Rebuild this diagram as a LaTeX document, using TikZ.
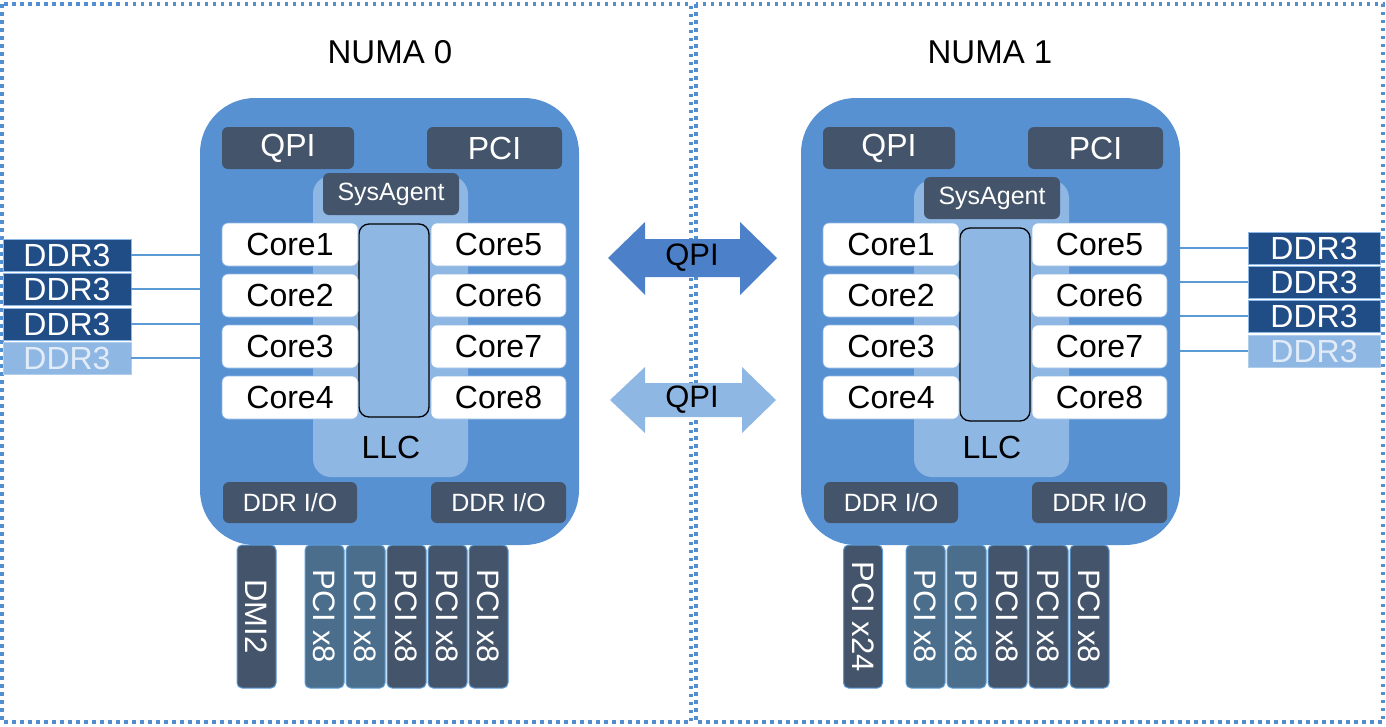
\documentclass[tikz,border=0pt]{standalone}
\usepackage{fontspec}
\setmainfont{Liberation Sans}
\definecolor{chipblue}{RGB}{88,145,210}
\definecolor{slate}{RGB}{68,84,106}
\definecolor{lightb}{RGB}{143,183,228}
\definecolor{ddrdark}{RGB}{33,77,135}
\definecolor{pcit}{RGB}{74,110,140}
\definecolor{dotblue}{RGB}{91,155,213}
\definecolor{dotframe}{RGB}{82,142,208}
\definecolor{arrowblue}{RGB}{76,128,200}
\definecolor{ddrlighttext}{RGB}{225,236,248}
\newcommand\fs[1]{\fontsize{#1}{#1}\selectfont}
\newcommand\placebox[7]{\node[#1, minimum width={(#5)-(#3)}, minimum height={(#6)-(#4)}] (#2) at ({((#3)+(#5))/2},{((#4)+(#6))/2}) {#7};}
\tikzset{
  box/.style={inner sep=0pt, outer sep=0pt},
  chipbox/.style={box, fill=chipblue, rounded corners=55},
  cachebox/.style={box, fill=lightb, rounded corners=18},
  darkbox/.style={box, fill=slate, text=white, rounded corners=6},
  corebox/.style={box, fill=white, draw=lightb, line width=0.6, rounded corners=6, text=black, font=\fs{32}},
  llcbar/.style={box, fill=lightb, draw=black, line width=1.3, rounded corners=10},
  vbox/.style={box, rotate=-90, draw=dotblue, line width=1, rounded corners=5, text=white, font=\fs{31}, minimum width=143, minimum height=39},
  ddrbox/.style={box, fill=ddrdark, draw=lightb, line width=1, text=white, font=\fs{32}},
  ddrlight/.style={box, fill=lightb, draw=lightb!70!white, line width=1, text=ddrlighttext, font=\fs{32}},
  conn/.style={draw=dotblue, line width=1.3},
  dotb/.style={draw=dotframe, line width=3.5, dash pattern=on 3.5pt off 4.5pt},
  title/.style={font=\fs{33}, text=black},
}
\newcommand\numaside[3]{%
  \placebox{chipbox}{chip#2}{200+#1}{98}{579+#1}{545}{}
  \placebox{cachebox}{cache#2}{313+#1}{176+#3}{468+#1}{477}{}
  \placebox{darkbox, font=\fs{32}}{qpi#2}{222+#1}{127}{354+#1}{169}{QPI}
  \placebox{darkbox, font=\fs{32}}{pci#2}{427+#1}{127}{562+#1}{169}{PCI}
  \placebox{darkbox, font=\fs{25}}{sys#2}{323+#1}{173+#3}{459+#1}{215+#3}{SysAgent}
  \placebox{llcbar}{bar#2}{359+#1}{224+#3}{429+#1}{417+#3}{}
  \foreach \i/\y in {1/223,2/274,3/325,4/376}{%
    \pgfmathtruncatemacro\j{\i+4}%
    \placebox{corebox}{core\i#2}{222+#1}{\y}{358+#1}{\y+43}{Core\i}
    \placebox{corebox}{core\j#2}{431+#1}{\y}{566+#1}{\y+43}{Core\j}
  }
  \node[font=\fs{32}] (llc#2) at ({391+#1},447) {LLC};
  \placebox{darkbox, font=\fs{25}}{ddrioa#2}{223+#1}{482}{357+#1}{523}{DDR I/O}
  \placebox{darkbox, font=\fs{25}}{ddriob#2}{431+#1}{482}{566+#1}{523}{DDR I/O}
  \foreach \k in {0,1,2,3,4}{%
    \pgfmathsetmacro\cx{324.5+41*\k+#1}%
    \ifnum\k<2
      \node[vbox, fill=pcit] (pcix\k#2) at (\cx,616.5) {PCI x8};
    \else
      \node[vbox, fill=slate] (pcix\k#2) at (\cx,616.5) {PCI x8};
    \fi
  }
}
\begin{document}
\begin{tikzpicture}[x=1pt,y=-1pt]
\useasboundingbox (0,0) rectangle (1386,726);
% dotted frames
\draw[dotb] (2,4) rectangle (691,722);
\draw[dotb] (696,4) rectangle (1383,722);
% titles
\node[title] (t0) at (390,52) {NUMA 0};
\node[title] (t1) at (990,52) {NUMA 1};
% sides
\numaside{0}{A}{0}
\numaside{601}{B}{4}
% extra vertical boxes
\node[vbox, fill=slate] (dmi) at (256.5,616.5) {DMI2};
\node[vbox, fill=slate] (pcix24) at (863,616.5) {PCI x24};
% DDR3 left
\placebox{ddrbox}{ddrL1}{3}{239}{131}{271}{DDR3}
\placebox{ddrbox}{ddrL2}{3}{273}{131}{305}{DDR3}
\placebox{ddrbox}{ddrL3}{3}{308}{131}{340}{DDR3}
\placebox{ddrlight}{ddrL4}{3}{342}{131}{374}{DDR3}
% DDR3 right
\placebox{ddrbox}{ddrR1}{1248}{232}{1380}{264}{DDR3}
\placebox{ddrbox}{ddrR2}{1248}{266}{1380}{298}{DDR3}
\placebox{ddrbox}{ddrR3}{1248}{300}{1380}{332}{DDR3}
\placebox{ddrlight}{ddrR4}{1248}{335}{1380}{367}{DDR3}
\foreach \n in {1,2,3,4}{
  \draw[conn] (ddrL\n.east) -- (ddrL\n.east -| chipA.west);
  \draw[conn] (ddrR\n.west) -- (ddrR\n.west -| chipB.east);
}
% QPI arrows
\fill[arrowblue] (608,258) -- (645,222) -- (645,239) -- (740,239) -- (740,222) -- (777,258)
  -- (740,295) -- (740,277) -- (645,277) -- (645,295) -- cycle;
\node[font=\fs{31}] (qpiarrow1) at (692,258) {QPI};
\fill[lightb] (610,400) -- (645,367) -- (645,383) -- (742,383) -- (742,367) -- (776,400)
  -- (742,433) -- (742,417) -- (645,417) -- (645,433) -- cycle;
\node[font=\fs{31}] (qpiarrow2) at (692,400) {QPI};
\end{tikzpicture}
\end{document}
